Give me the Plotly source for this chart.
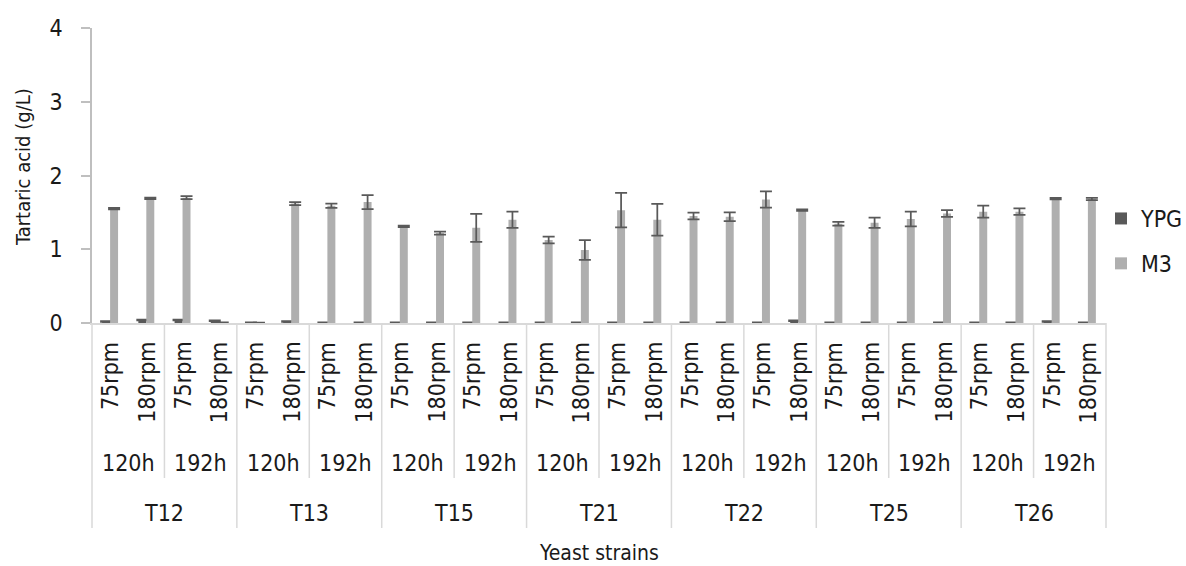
import plotly.graph_objects as go

# Category hierarchy: strain -> sampling time -> agitation speed
strains = ["T12", "T13", "T15", "T21", "T22", "T25", "T26"]
times = ["120h", "192h"]
speeds = ["75rpm", "180rpm"]

# Tartaric acid (g/L), ordered strain / time / speed
ypg = [0.02, 0.04, 0.04, 0.03,
       0.01, 0.02, 0.01, 0.01,
       0.01, 0.01, 0.01, 0.01,
       0.01, 0.01, 0.01, 0.01,
       0.01, 0.01, 0.01, 0.03,
       0.01, 0.01, 0.01, 0.01,
       0.01, 0.01, 0.02, 0.01]
ypg_err = [0.005, 0.005, 0.005, 0.005,
           0.0, 0.005, 0.0, 0.0,
           0.0, 0.0, 0.0, 0.0,
           0.0, 0.0, 0.0, 0.0,
           0.0, 0.0, 0.0, 0.005,
           0.0, 0.0, 0.0, 0.0,
           0.0, 0.0, 0.005, 0.0]
m3 = [1.55, 1.69, 1.70, 0.01,
      0.005, 1.62, 1.59, 1.64,
      1.31, 1.22, 1.29, 1.40,
      1.125, 0.99, 1.53, 1.40,
      1.45, 1.44, 1.675, 1.53,
      1.345, 1.36, 1.41, 1.485,
      1.51, 1.51, 1.685, 1.68]
m3_err = [0.01, 0.01, 0.02, 0.0,
          0.0, 0.02, 0.03, 0.095,
          0.01, 0.02, 0.19, 0.11,
          0.045, 0.135, 0.235, 0.215,
          0.045, 0.06, 0.11, 0.01,
          0.025, 0.07, 0.10, 0.045,
          0.08, 0.045, 0.01, 0.015]

FONT = "DejaVu Sans Condensed, DejaVu Sans, sans-serif"
TXT = "#1a1a1a"
SEP = "#d9d9d9"
ERR = "#595959"

n_cat = len(strains) * len(times) * len(speeds)
xs = list(range(n_cat))

fig = go.Figure()
fig.add_trace(go.Bar(
    x=xs, y=ypg, name="YPG", legendgroup="ypg",
    marker=dict(color="#595959", line=dict(width=0)),
    error_y=dict(type="data", array=ypg_err, visible=True,
                 color=ERR, thickness=1.75, width=6),
))
fig.add_trace(go.Bar(
    x=xs, y=m3, name="M3", legendgroup="m3",
    marker=dict(color="#afafaf", line=dict(width=0)),
    error_y=dict(type="data", array=m3_err, visible=True,
                 color=ERR, thickness=1.75, width=6),
))

# plot area geometry (px) used to place the hierarchical axis labels
L, R, T, B = 92, 1106, 28, 323
H = B - T


def py(p):
    """pixel row -> paper y"""
    return (B - p) / H


def px(p):
    """pixel column -> paper x"""
    return (p - L) / (R - L)


annotations = []
shapes = []
i = 0
for s_idx, s in enumerate(strains):
    for t_idx, t in enumerate(times):
        for sp in speeds:
            annotations.append(dict(
                x=i, xref="x", y=py(340), yref="paper",
                text=sp, textangle=-90, showarrow=False,
                xanchor="center", yanchor="top",
                font=dict(family=FONT, size=23, color=TXT)))
            i += 1
        annotations.append(dict(
            x=4 * s_idx + 2 * t_idx + 0.5, xref="x", y=py(463), yref="paper",
            text=t, showarrow=False, xanchor="center", yanchor="middle",
            font=dict(family=FONT, size=23, color=TXT)))
    annotations.append(dict(
        x=4 * s_idx + 1.5, xref="x", y=py(513), yref="paper",
        text=s, showarrow=False, xanchor="center", yanchor="middle",
        font=dict(family=FONT, size=23, color=TXT)))

# divider lines between time groups and between strains
for k in range(0, n_cat + 1, 2):
    bottom = 528 if k % 4 == 0 else 478
    shapes.append(dict(
        type="line", xref="paper", yref="paper",
        x0=k / n_cat, x1=k / n_cat, y0=0, y1=py(bottom),
        line=dict(color=SEP, width=1.5)))

annotations.append(dict(
    x=0.5, xref="paper", y=py(553), yref="paper", text="Yeast strains",
    showarrow=False, xanchor="center", yanchor="middle",
    font=dict(family=FONT, size=21, color=TXT)))
annotations.append(dict(
    x=px(23), xref="paper", y=py(167), yref="paper",
    text="Tartaric acid (g/L)", textangle=-90, showarrow=False,
    xanchor="center", yanchor="middle",
    font=dict(family=FONT, size=20, color=TXT)))

fig.update_layout(
    width=1186, height=566,
    margin=dict(l=L, r=1186 - R, t=T, b=566 - B, pad=0, autoexpand=False),
    paper_bgcolor="white", plot_bgcolor="white",
    barmode="group", bargap=0.56, bargroupgap=0,
    font=dict(family=FONT, size=23, color=TXT),
    showlegend=True,
    legend=dict(
        x=px(1101), xanchor="left",
        y=py(197), yanchor="top",
        traceorder="grouped", tracegroupgap=12,
        font=dict(family=FONT, size=23, color=TXT),
        bgcolor="rgba(0,0,0,0)", borderwidth=0,
    ),
    xaxis=dict(
        range=[-0.5, n_cat - 0.5], showticklabels=False, ticks="",
        showgrid=False, zeroline=False,
        showline=True, linecolor=SEP, linewidth=1.5,
    ),
    yaxis=dict(
        range=[0, 4], dtick=1, tick0=0, showgrid=False, zeroline=False,
        showline=True, linecolor="#bfbfbf", linewidth=1.5,
        ticks="outside", ticklen=9, tickcolor="#bfbfbf", tickwidth=1.5,
        ticklabelstandoff=14,
        tickfont=dict(family=FONT, size=23, color=TXT),
    ),
    annotations=annotations,
    shapes=shapes,
)

fig.write_html("out.html")
